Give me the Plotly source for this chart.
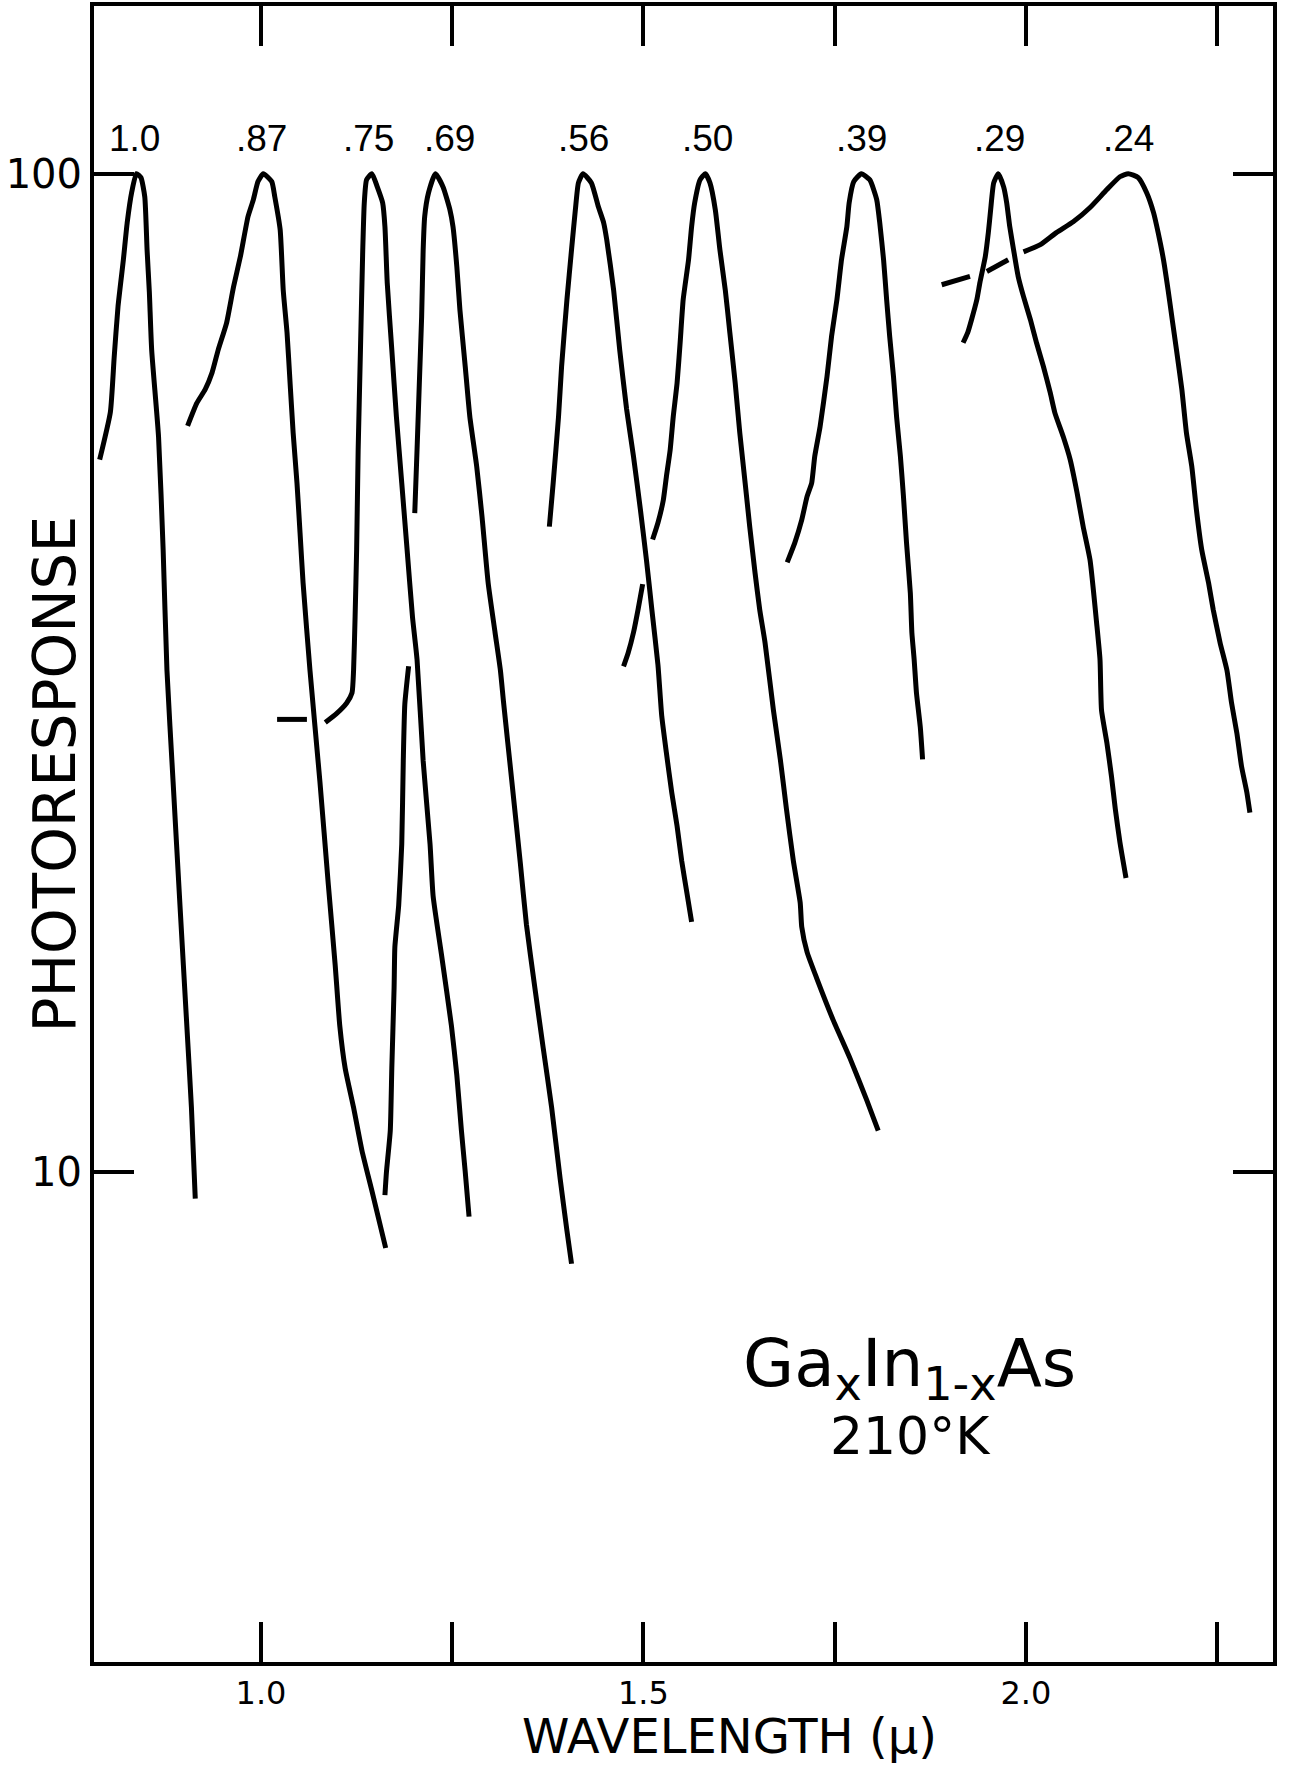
import math
import plotly.graph_objects as go

# Photoresponse of Ga(x)In(1-x)As alloys at 210 K, each spectrum normalised to 100
# at its peak.  Wavelength in microns.  None marks a break in a pen stroke where one
# curve is drawn across another.

# x = 1.0
wl_x100 = [0.789, 0.803, 0.808, 0.813, 0.820, 0.825, 0.831, 0.837, 0.843, 0.848, 0.851,
           0.854, 0.857, 0.866, 0.872, 0.877, 0.885, 0.894, 0.903, 0.909, 0.914]
pr_x100 = [51.7, 57.7, 65.5, 73.6, 82.0, 89.3, 95.9, 100, 99.1, 94.8, 83.9,
           76.0, 66.6, 54.5, 42.0, 31.8, 24.6, 18.5, 14.0, 11.6, 9.4]

# x = .87
wl_x087 = [0.904, 0.916, 0.927, 0.936, 0.944, 0.955, 0.964, 0.973, 0.983, 0.990,
           0.996, 1.003, 1.014, 1.018, 1.025, 1.029, 1.034, 1.038, 1.042, 1.047,
           1.051, 1.055, 1.064, 1.077, 1.088, 1.097, 1.103, 1.110, 1.121, 1.132,
           1.145, 1.163]
pr_x087 = [55.9, 58.9, 60.8, 63.2, 66.6, 70.9, 77.0, 82.6, 90.6, 94.2,
           98.2, 100, 98.2, 94.8, 87.9, 76.5, 69.3, 61.7, 55.0, 49.0,
           43.7, 38.9, 31.8, 24.6, 19.4, 16.1, 14.0, 12.7, 11.6, 10.5,
           9.57, 8.39]

# x = .75
wl_x075 = [1.021, 1.060, None, 1.084, 1.099, 1.112, 1.119, 1.121, 1.123, 1.125,
           1.127, 1.130, 1.133, 1.135, 1.138, 1.145, 1.152, 1.159, 1.162, 1.165,
           1.171, 1.177, 1.184, 1.191, 1.198, 1.204, 1.212, 1.221, 1.225, 1.236,
           1.249, 1.256, 1.262, 1.267, 1.272]
pr_x075 = [28.4, 28.4, None, 28.2, 28.8, 29.5, 30.2, 31.8, 36.0, 42.0,
           52.9, 66.6, 83.9, 93.5, 98.6, 100, 97.0, 93.5, 88.5, 77.8,
           66.6, 57.1, 49.0, 42.0, 36.0, 32.6, 25.8, 21.3, 18.9, 16.5,
           14.0, 12.5, 11.0, 10.0, 9.02]

# x = .69 (short-wavelength tail drawn as a separate stroke)
wl_x069 = [1.162, 1.164, 1.169, 1.171, 1.174, 1.175, 1.180, 1.184, 1.186, 1.188,
           1.193, None,
           1.201, 1.204, 1.207, 1.210, 1.212, 1.214, 1.219, 1.228, 1.238, 1.247,
           1.251, 1.256, 1.260, 1.267, 1.273, 1.282, 1.289, 1.297, 1.306, 1.313,
           1.317, 1.328, 1.339, 1.347, 1.358, 1.369, 1.380, 1.391, 1.400, 1.406]
pr_x069 = [9.48, 10.0, 11.0, 12.7, 15.3, 16.8, 18.5, 21.3, 25.8, 29.4,
           32.1, None,
           45.7, 52.9, 61.7, 71.9, 83.9, 90.6, 95.7, 100, 97.0, 92.0,
           88.5, 80.7, 73.1, 64.1, 57.1, 50.9, 45.3, 38.9, 34.7, 31.8,
           29.6, 24.6, 20.4, 17.7, 15.3, 13.3, 11.6, 9.86, 8.73, 8.09]

# x = .56
wl_x056 = [1.377, 1.382, 1.389, 1.393, 1.400, 1.406, 1.411, 1.415, 1.421, 1.432,
           1.441, 1.448, 1.452, 1.461, 1.469, 1.478, 1.487, 1.496, 1.504, 1.511,
           1.519, 1.524, 1.530, 1.537, 1.544, 1.550, 1.557, 1.563]
pr_x056 = [44.3, 49.0, 57.1, 64.1, 74.8, 83.9, 92.0, 97.9, 100, 97.9,
           92.7, 89.3, 85.9, 76.5, 66.6, 58.1, 52.1, 46.1, 41.0, 36.6,
           32.2, 28.6, 26.3, 24.0, 22.2, 20.5, 19.0, 17.8]

# x = .50
wl_x050 = [1.474, 1.480, 1.487, 1.493, 1.499, None,
           1.512, 1.519, 1.526, 1.530, 1.535, 1.539, 1.544, 1.548, 1.552, 1.559,
           1.563, 1.567, 1.574, 1.581, 1.587, 1.594, 1.600, 1.607, 1.613, 1.620,
           1.626, 1.633, 1.639, 1.646, 1.652, 1.659, 1.670, 1.679, 1.687, 1.696,
           1.705, 1.707, 1.714, 1.727, 1.748, 1.770, 1.792, 1.807]
pr_x050 = [32.1, 33.1, 34.7, 36.6, 38.8, None,
           43.0, 44.7, 47.1, 49.7, 52.9, 57.1, 61.7, 67.7, 74.8, 82.0,
           88.5, 93.5, 98.6, 100, 97.9, 92.0, 83.9, 76.5, 69.3, 61.7,
           55.0, 49.0, 44.3, 39.8, 36.6, 33.9, 29.0, 25.9, 23.1, 20.5,
           18.6, 17.6, 16.6, 15.6, 14.2, 13.0, 11.8, 11.0]

# x = .39
wl_x039 = [1.688, 1.698, 1.707, 1.714, 1.720, 1.724, 1.731, 1.740, 1.746, 1.753,
           1.759, 1.766, 1.769, 1.775, 1.785, 1.796, 1.805, 1.809, 1.814, 1.818,
           1.822, 1.827, 1.831, 1.836, 1.840, 1.844, 1.849, 1.851, 1.854, 1.857,
           1.862, 1.865]
pr_x039 = [40.8, 42.7, 45.0, 47.5, 49.0, 52.1, 55.8, 62.6, 68.7, 74.8,
           82.0, 88.5, 93.5, 98.2, 100, 98.6, 94.2, 89.3, 82.0, 74.8,
           68.7, 62.6, 57.1, 52.1, 47.5, 42.7, 38.0, 34.7, 32.6, 30.2,
           27.9, 25.9]

# x = .29
wl_x029 = [1.918, 1.924, 1.929, 1.936, 1.940, 1.947, 1.951, 1.954, 1.958, 1.964,
           1.971, 1.975, 1.979, 1.984, 1.990, 1.997, 2.006, 2.014, 2.023, 2.032,
           2.038, 2.049, 2.058, 2.067, 2.075, 2.084, 2.093, 2.097, 2.099, 2.106,
           2.112, 2.117, 2.123, 2.131]
pr_x029 = [67.7, 69.3, 71.4, 74.8, 77.8, 82.6, 87.3, 92.0, 97.9, 100,
           97.0, 93.5, 88.5, 83.9, 78.9, 75.3, 71.4, 67.7, 64.1, 60.3,
           57.6, 54.5, 51.7, 47.9, 44.3, 41.0, 35.2, 32.6, 29.0, 26.9,
           24.9, 23.1, 21.4, 19.7]

# x = .24
wl_x024 = [1.890, 1.927, None, 1.949, 1.977, None, 1.997, 2.019, 2.040, 2.062,
           2.084, 2.106, 2.123, 2.134, 2.147, 2.158, 2.167, 2.173, 2.180, 2.186,
           2.192, 2.197, 2.204, 2.210, 2.217, 2.223, 2.230, 2.239, 2.245, 2.254,
           2.263, 2.269, 2.276, 2.282, 2.289, 2.293]
pr_x024 = [77.4, 78.9, None, 79.8, 82.0, None, 83.5, 84.9, 87.3, 89.5,
           92.5, 96.4, 99.3, 100, 99.1, 95.7, 91.4, 87.3, 82.0, 76.5,
           70.9, 66.6, 60.8, 55.0, 50.9, 46.1, 42.0, 38.9, 36.6, 33.9,
           31.8, 29.5, 27.5, 25.5, 24.0, 22.9]

# Composition labels written above the peaks
compositions = ["1.0", ".87", ".75", ".69", ".56", ".50", ".39", ".29", ".24"]
label_wl = [0.834, 1.000, 1.140, 1.246, 1.421, 1.584, 1.785, 1.966, 2.134]
label_pr = 108.5

x_tickvals = [1.0, 1.5, 2.0]
x_ticktext = ["1.0", "1.5", "2.0"]
y_tickvals = [10, 100]
y_ticktext = ["10", "100"]

FONT = "DejaVu Sans"
LABEL_FONT = "Liberation Sans"
INK = "black"

series = [
    (wl_x100, pr_x100), (wl_x087, pr_x087), (wl_x075, pr_x075),
    (wl_x069, pr_x069), (wl_x056, pr_x056), (wl_x050, pr_x050),
    (wl_x039, pr_x039), (wl_x029, pr_x029), (wl_x024, pr_x024),
]

fig = go.Figure()
for name, (wl, pr) in zip(compositions, series):
    fig.add_trace(go.Scatter(
        x=wl, y=pr, mode="lines", name=name,
        line=dict(color=INK, width=5, shape="spline", smoothing=0.5),
        connectgaps=False, hoverinfo="skip",
    ))


def note(text, x, y, size, xref="paper", yref="paper", angle=0, family=FONT):
    return dict(text=text, x=x, y=y, xref=xref, yref=yref, textangle=angle,
                xanchor="center", yanchor="middle", align="center",
                showarrow=False, font=dict(family=family, size=size, color=INK))


annotations = [note(t, wl, math.log10(label_pr), 37, "x", "y", family=LABEL_FONT)
               for t, wl in zip(compositions, label_wl)]
annotations += [
    note("WAVELENGTH (\u03bc)", 0.539, -0.0448, 48),
    note("PHOTORESPONSE", -0.033, 0.536, 58, angle=-90),
    note('<span style="font-size:66px">Ga<sub>x</sub>In<sub>1-x</sub>As</span>'
         "<br>210\u00b0K", 0.692, 0.161, 52),
]

axis_style = dict(
    showline=True, linewidth=4, linecolor=INK, mirror="ticks",
    ticks="inside", ticklen=40, tickwidth=4, tickcolor=INK,
    showgrid=False, zeroline=False, automargin=False,
)

fig.update_layout(
    width=1290, height=1766,
    margin=dict(l=94, r=17, t=6, b=104, autoexpand=False),
    paper_bgcolor="white", plot_bgcolor="white",
    showlegend=False,
    annotations=annotations,
    xaxis=dict(range=[0.7816, 2.3232], tickvals=x_tickvals, ticktext=x_ticktext,
               tickfont=dict(family=FONT, size=32, color=INK),
               ticklabelstandoff=0,
               minor=dict(tick0=1.0, dtick=0.25, ticks="inside", ticklen=40,
                          tickwidth=4, tickcolor=INK, showgrid=False),
               **axis_style),
    yaxis=dict(type="log", range=[0.509, 2.168], tickvals=y_tickvals,
               ticktext=y_ticktext,
               tickfont=dict(family=FONT, size=40, color=INK),
               ticklabelstandoff=0, **axis_style),
)

fig.write_html("out.html")
